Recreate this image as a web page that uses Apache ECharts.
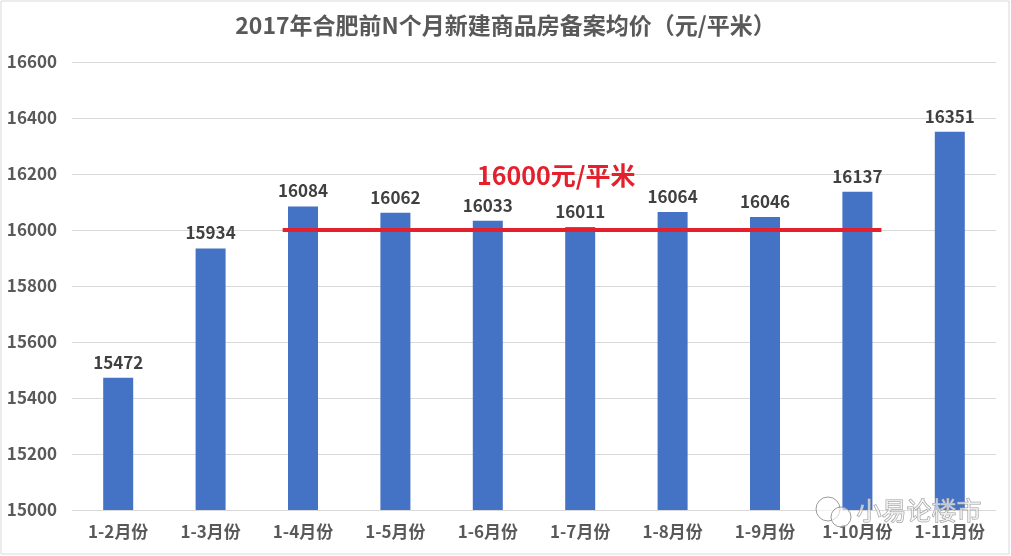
<!DOCTYPE html>
<html><head><meta charset="utf-8">
<script src="https://cdn.jsdelivr.net/npm/echarts@6/dist/echarts.min.js"></script>
<style>html,body{margin:0;padding:0;background:#fff}#c{width:1011px;height:556px}</style>
</head><body><div id="c"></div>
<script>
const categories = ['1-2月份','1-3月份','1-4月份','1-5月份','1-6月份','1-7月份','1-8月份','1-9月份','1-10月份','1-11月份'];
const prices = [15472, 15934, 16084, 16062, 16033, 16011, 16064, 16046, 16137, 16351];
const refValue = 16000;
const refSpan = [2.28, 8.76];
const refLabel = '16000元/平米';
const titleText = '2017年合肥前N个月新建商品房备案均价（元/平米）';
const watermark = '小易论楼市';

const chart = echarts.init(document.getElementById('c'));
const font = '"Microsoft YaHei","Noto Sans CJK SC",sans-serif';
chart.setOption({
  animation: false,
  title: {text: titleText, left: 'center', top: 9,
    textStyle: {fontFamily: font, fontSize: 23, fontWeight: 'bold', color: '#595959'}},
  grid: {left: 72, right: 15, top: 62, bottom: 46},
  xAxis: [{
    type: 'category', data: categories,
    axisLine: {show: false}, axisTick: {show: false},
    axisLabel: {fontFamily: font, fontSize: 17, fontWeight: 'bold', color: '#595959', margin: 13}
  }, {
    type: 'value', min: 0, max: 10, show: false
  }],
  yAxis: {
    type: 'value', min: 15000, max: 16600, interval: 200,
    axisLine: {show: false}, axisTick: {show: false},
    splitLine: {lineStyle: {color: '#d9d9d9', width: 1}},
    axisLabel: {fontFamily: font, fontSize: 17, fontWeight: 'bold', color: '#595959', margin: 15,
      formatter: v => String(v)}
  },
  series: [{
    type: 'bar', data: prices, barWidth: 30, xAxisIndex: 0,
    itemStyle: {color: '#4472c4'},
    label: {show: true, position: 'top', distance: 7, fontFamily: font, fontSize: 17, fontWeight: 'bold', color: '#404040'}
  }, {
    type: 'line', xAxisIndex: 1, symbol: 'none', z: 5,
    data: [[refSpan[0], refValue], [refSpan[1], refValue]],
    lineStyle: {color: '#e3202b', width: 4}
  }],
  graphic: [{
    type: 'text', left: 477, top: 163, z: 100,
    style: {text: refLabel, fontFamily: font, fontSize: 25, fontWeight: 'bold', fill: '#e3202b', stroke: 'none', lineWidth: 0}
  }, {
    type: 'rect', shape: {x: 1, y: 1, width: 1008, height: 553}, z: 100,
    style: {fill: 'none', stroke: '#d9d9d9', lineWidth: 1}, silent: true
  }, {
    type: 'circle', shape: {cx: 828, cy: 509, r: 12}, z: 100,
    style: {fill: 'rgba(255,255,255,0.6)', stroke: '#9a9a9a', lineWidth: 1}
  }, {
    type: 'circle', shape: {cx: 841, cy: 517, r: 10}, z: 101,
    style: {fill: 'rgba(255,255,255,0.6)', stroke: '#9a9a9a', lineWidth: 1}
  }, {
    type: 'text', left: 856, top: 497, z: 102,
    style: {text: watermark, fontFamily: font, fontSize: 25, fill: 'rgba(255,255,255,0.6)', stroke: '#9a9a9a', lineWidth: 1}
  }]
});
</script></body></html>
